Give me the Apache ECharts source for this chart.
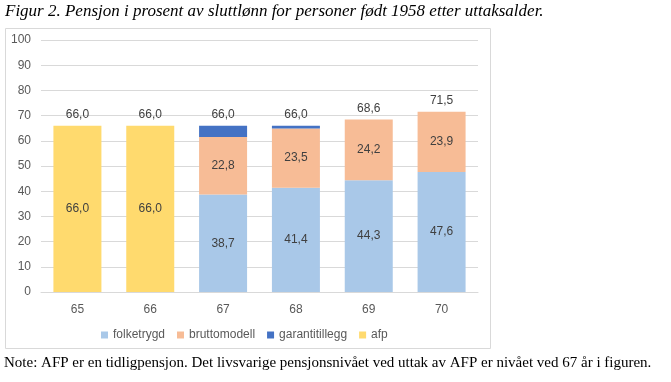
<!DOCTYPE html>
<html><head><meta charset="utf-8">
<script src="https://cdn.jsdelivr.net/npm/echarts@6/dist/echarts.min.js"></script>
<style>html,body{margin:0;padding:0;background:#fff}#c{width:671px;height:382px}</style>
</head><body><div id="c"></div>
<script>
var categories = ['65','66','67','68','69','70'];
var folketrygd = [null, null, 38.7, 41.4, 44.3, 47.6];
var bruttomodell = [null, null, 22.8, 23.5, 24.2, 23.9];
var garantitillegg = [null, null, 4.5, 1.1, null, null];
var afp = [66.0, 66.0, null, null, null, null];
var totals = [66.0, 66.0, 66.0, 66.0, 68.6, 71.5];
var yTicks = [0,10,20,30,40,50,60,70,80,90,100];

function fmt(v){ return v == null ? '' : v.toFixed(1).replace('.', ','); }
var lblFont = {fontFamily:'Liberation Sans, Arial', fontSize:12, color:'#404040'};
function inside(){ return Object.assign({show:true, position:'inside', formatter:function(p){return fmt(p.value);}}, lblFont); }

var chart = echarts.init(document.getElementById('c'), null, {renderer:'canvas'});
chart.setOption({
  animation:false,
  textStyle:{fontFamily:'Liberation Sans, Arial'},
  graphic:[
    {type:'rect', shape:{x:5.5,y:28.5,width:485,height:320}, style:{fill:'none', stroke:'#d9d9d9', lineWidth:1}, z:-1},
    {type:'text', left:5, top:3, style:{text:'Figur 2. Pensjon i prosent av sluttlønn for personer født 1958 etter uttaksalder.', font:'italic 17px "Liberation Serif"', fill:'#000'}},
    {type:'text', left:4, top:356, style:{text:'Note: AFP er en tidligpensjon. Det livsvarige pensjonsnivået ved uttak av AFP er nivået ved 67 år i figuren.', font:'15px "Liberation Serif"', fill:'#000'}}
  ],
  grid:{left:41, right:193, top:40, bottom:90, containLabel:false},
  legend:{
    data:['folketrygd','bruttomodell','garantitillegg','afp'],
    left:96, top:324, itemWidth:7, itemHeight:7, itemGap:12, icon:'rect',
    textStyle:{fontSize:12, color:'#595959', fontFamily:'Liberation Sans, Arial'}
  },
  xAxis:{type:'category', data:categories,
    axisLine:{lineStyle:{color:'#d9d9d9'}}, axisTick:{show:false},
    axisLabel:{color:'#595959', fontSize:12, margin:12}},
  yAxis:{type:'value', min:0, max:100, interval:10,
    axisLine:{show:false}, axisTick:{show:false},
    splitLine:{lineStyle:{color:'#d9d9d9'}},
    axisLabel:{color:'#595959', fontSize:12, margin:10}},
  series:[
    {name:'folketrygd', type:'bar', stack:'s', data:folketrygd, barWidth:48, itemStyle:{color:'#a9c8e8'}, label:inside()},
    {name:'bruttomodell', type:'bar', stack:'s', data:bruttomodell, barWidth:48, itemStyle:{color:'#f7bc96'}, label:inside()},
    {name:'garantitillegg', type:'bar', stack:'s', data:garantitillegg, barWidth:48, itemStyle:{color:'#4472c4'}},
    {name:'afp', type:'bar', stack:'s', data:afp, barWidth:48, itemStyle:{color:'#ffda6e'}, label:inside()},
    {name:'total', type:'bar', stack:'s', data:totals.map(function(){return 0;}), barWidth:48, itemStyle:{color:'transparent'},
      label:Object.assign({show:true, position:'top', distance:5, formatter:function(p){return fmt(totals[p.dataIndex]);}}, lblFont)}
  ]
});
</script></body></html>
